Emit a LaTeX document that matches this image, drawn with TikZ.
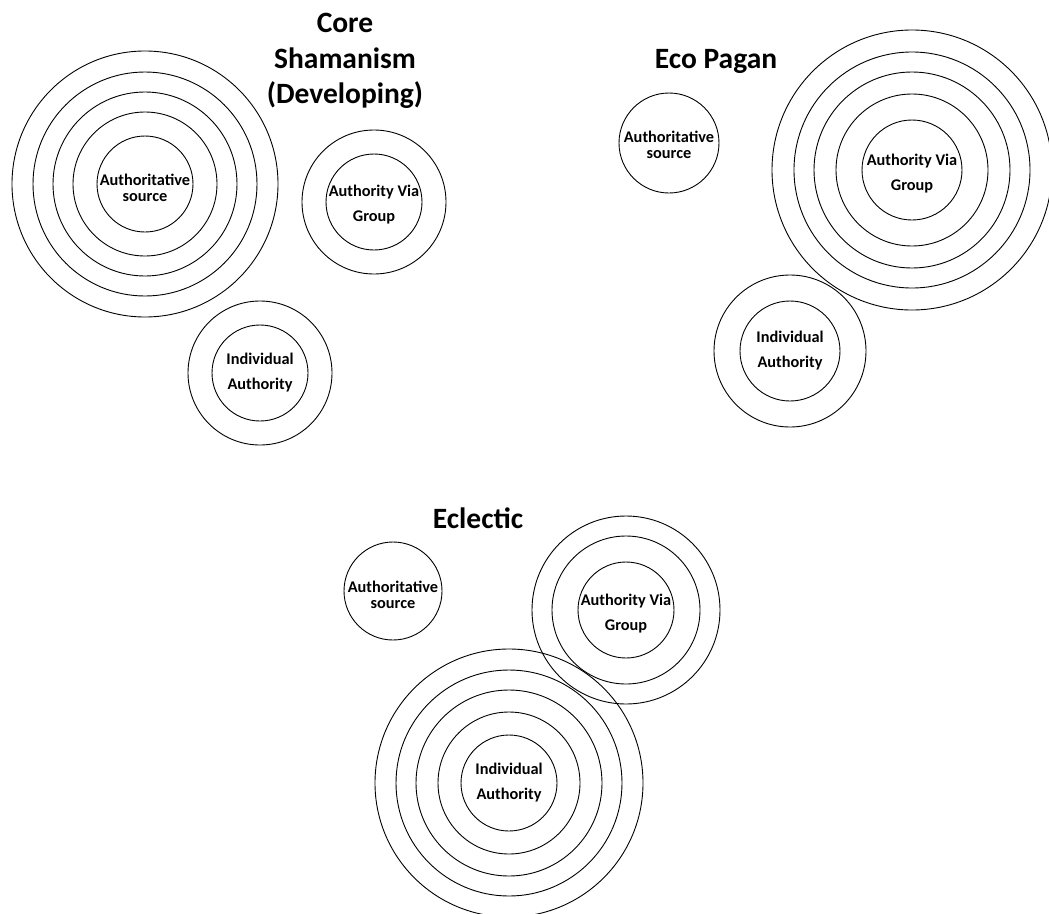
\documentclass[tikz,border=0pt]{standalone}
\usepackage{fontspec}
\setmainfont{Carlito}
\usepackage{tikz}

\begin{document}
\begin{tikzpicture}[x=1pt, y=-1pt, line width=0.9pt,
    every node/.style={align=center, inner sep=0pt},
    tight/.style={font=\bfseries\fontsize{16.3}{16}\selectfont},
    loose/.style={font=\bfseries\fontsize{16.3}{25}\selectfont},
    heading/.style={font=\bfseries\fontsize{29.5}{35.5}\selectfont}]
  \useasboundingbox (0,0) rectangle (1049,913);

  % Core Shamanism (Developing)
  \node[heading] (csTitle) at (345,61) {Core\\Shamanism\\(Developing)};
  \coordinate (csSrc) at (145,184);
  \coordinate (csGrp) at (374,202);
  \coordinate (csInd) at (260,373);
  \node[tight] (csSrcTxt) at ([yshift=-4pt]csSrc) {Authoritative\\source};
  \node[loose] (csGrpTxt) at ([yshift=-3pt]csGrp) {Authority Via\\Group};
  \node[loose] (csIndTxt) at (csInd) {Individual\\Authority};
  \foreach \r in {48,72,92,112,133} \draw (csSrc) circle (\r pt);
  \foreach \r in {48,72} {
    \draw (csGrp) circle (\r pt);
    \draw (csInd) circle (\r pt);
  }

  % Eco Pagan
  \node[heading, anchor=base] (epTitle) at (716,68) {Eco Pagan};
  \coordinate (epSrc) at (669,143);
  \coordinate (epGrp) at (912,170);
  \coordinate (epInd) at (790,351);
  \node[tight] (epSrcTxt) at ([yshift=-2pt]epSrc) {Authoritative\\source};
  \node[loose] (epGrpTxt) at ([yshift=-4pt]epGrp) {Authority Via\\Group};
  \node[loose] (epIndTxt) at (epInd) {Individual\\Authority};
  \draw (epSrc) circle (50pt);
  \foreach \r in {50,76,98,118,140} \draw (epGrp) circle (\r pt);
  \foreach \r in {50,76} \draw (epInd) circle (\r pt);

  % Eclectic
  \node[heading, anchor=base] (ecTitle) at (478,528) {Eclectic};
  \coordinate (ecSrc) at (393,591);
  \coordinate (ecGrp) at (626,610);
  \coordinate (ecInd) at (509,783);
  \node[tight] (ecSrcTxt) at ([yshift=-4pt]ecSrc) {Authoritative\\source};
  \node[loose] (ecGrpTxt) at ([yshift=-4pt]ecGrp) {Authority Via\\Group};
  \node[loose] (ecIndTxt) at (ecInd) {Individual\\Authority};
  \draw (ecSrc) circle (49pt);
  \foreach \r in {48,74,94} \draw (ecGrp) circle (\r pt);
  \foreach \r in {48,71,93,113,134} \draw (ecInd) circle (\r pt);
\end{tikzpicture}
\end{document}
